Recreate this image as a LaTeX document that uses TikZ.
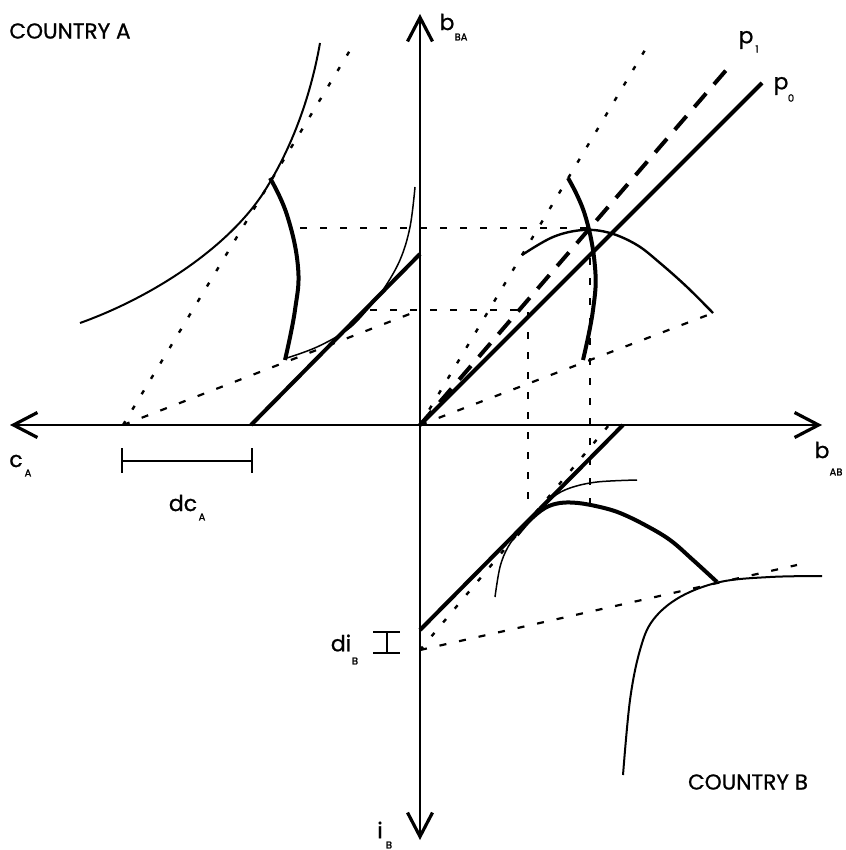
\documentclass[tikz,border=0pt]{standalone}
\usepackage{fontspec}
\setmainfont{Poppins}
\newfontfamily\lblfont[FakeBold=0.8]{Poppins}
\newfontfamily\subfont[FakeBold=1.5]{Poppins}
\usetikzlibrary{arrows.meta}
\begin{document}
\begin{tikzpicture}[x=0.5pt,y=-0.5pt,
  axis/.style={line width=1pt,{Straight Barb[length=12pt,width=12.5pt,line width=1.6pt]}-{Straight Barb[length=12pt,width=12.5pt,line width=1.6pt]}},
  bigcurve/.style={line width=1pt},
  tangcurve/.style={line width=0.75pt},
  midcurve/.style={line width=1.2pt},
  heavy/.style={line width=2pt},
  dotl/.style={line width=1.2pt,dash pattern=on 2.2pt off 6.8pt},
  dashl/.style={line width=1.1pt,dash pattern=on 3.5pt off 6.5pt},
  longdash/.style={line width=2pt,dash pattern=on 9pt off 6pt},
  lbl/.style={inner sep=0pt,font=\lblfont\fontsize{11}{13}\selectfont},
  sub/.style={inner sep=0pt,font=\subfont\fontsize{5}{6}\selectfont},
  country/.style={inner sep=0pt,font=\lblfont\fontsize{10.8}{13}\selectfont}]
\useasboundingbox (0,0) rectangle (845,850);
\fill[white] (0,0) rectangle (845,850);

% key points
\coordinate (O) at (420,425);
\coordinate (L) at (10,425);
\coordinate (R) at (822,425);
\coordinate (T) at (420,14);
\coordinate (B) at (420,840);

% axes
\draw[axis] (L) -- (R);
\draw[axis] (B) -- (T);

% ---------- top-left quadrant (country A) ----------
\coordinate (cA1) at (123,425);
\draw[bigcurve] (80,323) .. controls (150,298) and (225,250) .. (262,195) .. controls (290,152) and (310,100) .. (320,43);
\draw[dotl] (cA1) -- (352,47);
\draw[heavy] plot[smooth,tension=0.7] coordinates {(270,178) (287,215) (298,267) (295,310) (285,360)};
\draw[tangcurve] plot[smooth,tension=0.6] coordinates {(287,358) (317,347) (347,330) (367,310) (383,290) (400,260) (410,227) (415,187)};
\draw[heavy] (251,425) -- (420,254);
\draw[dashl] (cA1) -- (420,310);

% horizontal / vertical guide lines
\draw[dashl] (370,310) -- (528,310) -- (528,503);
\draw[dashl] (300,228) -- (588,228);
\draw[dashl] (590,258) -- (590,503);

% ---------- top-right quadrant ----------
\coordinate (P0) at (762,83);
\coordinate (P1) at (728,68);
\draw[heavy] (O) -- (P0);
\draw[longdash] (O) -- (P1);
\draw[dotl] (O) -- (648,45);
\draw[dashl] (O) -- (713,313);
\draw[heavy] plot[smooth,tension=0.7] coordinates {(568,178) (585,215) (595,267) (593,310) (583,360)};
\draw[midcurve] plot[smooth,tension=0.6] coordinates {(522,255) (553,237) (583,230) (610,233) (637,245) (660,263) (687,287) (713,313)};

% ---------- bottom quadrant (country B) ----------
\coordinate (iB1) at (420,650);
\draw[heavy] (420,630) -- (623,425);
\draw[dotl] (iB1) -- (609,425);
\draw[dashl] (iB1) -- (797,565);
\draw[heavy] plot[smooth,tension=0.6] coordinates {(517,535) (530,520) (545,508) (560,503) (578,503) (600,507) (620,513) (645,525) (670,540) (693,560) (717,582)};
\draw[tangcurve] plot[smooth,tension=0.6] coordinates {(495,597) (500,567) (508,547) (520,531) (540,510) (553,497) (570,488) (597,482) (637,480)};
\draw[bigcurve] plot[smooth,tension=0.6] coordinates {(623,775) (630,700) (640,650) (653,620) (680,597) (720,582) (770,577) (822,576)};

% brackets
\draw[line width=0.9pt] (122,448) -- (122,473);
\draw[line width=0.9pt] (252,448) -- (252,473);
\draw[line width=0.9pt] (122,461) -- (252,461);
\draw[line width=0.9pt] (373,632) -- (400,632);
\draw[line width=0.9pt] (373,653) -- (400,653);
\draw[line width=0.9pt] (387,632) -- (387,653);

% labels
\node[country] (cA) at (70,31) {COUNTRY A};
\node[country] (cB) at (748,782) {COUNTRY B};
\node[lbl] (bBA) at (447,22) {b};
\node[sub] (bBAs) at (461,37) {BA};
\node[lbl] (p1) at (746,40) {p};
\node[sub] (p1s) at (757,49) {1};
\node[lbl] (p0) at (781,86) {p};
\node[sub] (p0s) at (791,98) {0};
\node[lbl] (cAl) at (16,461) {c};
\node[sub] (cAs) at (28,473) {A};
\node[lbl] (bAB) at (822,450) {b};
\node[sub] (bABs) at (836,472) {AB};
\node[lbl] (dcA) at (183,503) {dc};
\node[sub] (dcAs) at (202,517) {A};
\node[lbl] (diB) at (341,643) {di};
\node[sub] (diBs) at (355,661) {B};
\node[lbl] (iB) at (380,830) {i};
\node[sub] (iBs) at (389,845) {B};
\end{tikzpicture}
\end{document}
